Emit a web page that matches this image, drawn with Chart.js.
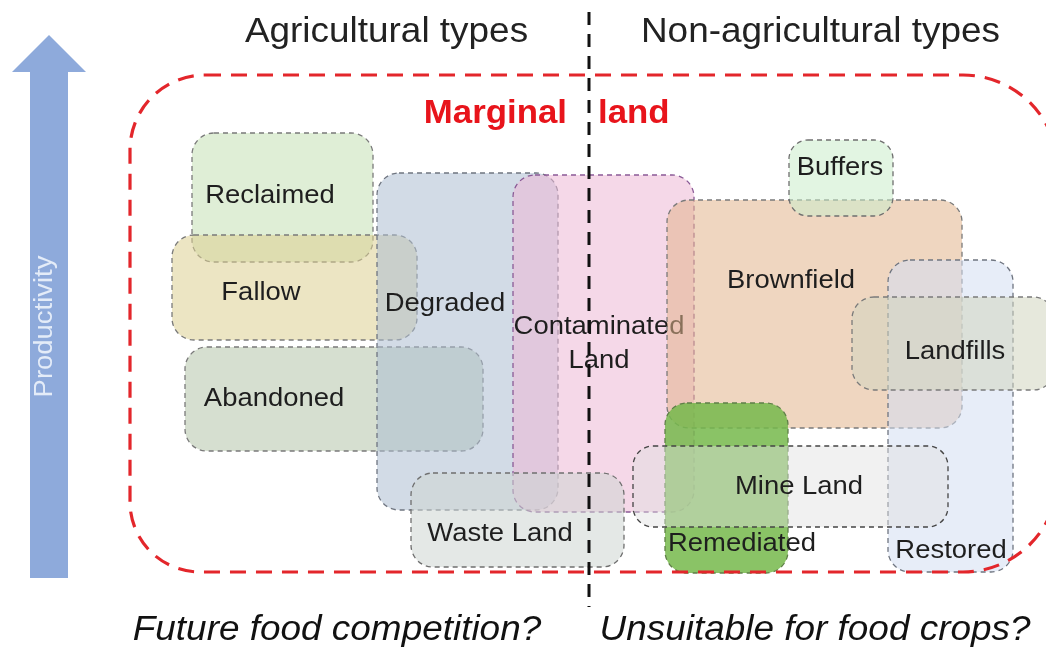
<!DOCTYPE html>
<html lang="en">
<head>
  <meta charset="UTF-8">
  <title>Marginal land types</title>
  <script src="https://cdn.jsdelivr.net/npm/chart.js"></script>
  <style>
    body { margin: 0; background: #fff; }
  </style>
</head>
<body>
  <canvas id="landChart" width="1046" height="648"></canvas>

  <script>
    // Land types: extent along the x axis and along productivity (y)
    const boxNames = ['Reclaimed', 'Fallow', 'Abandoned', 'Degraded', 'Contaminated\nLand', 'Waste Land',
      'Brownfield', 'Buffers', 'Restored', 'Landfills', 'Remediated', 'Mine Land'];
    const boxX = [[19.2, 37.3], [17.2, 41.7], [18.5, 48.3], [37.7, 55.8], [51.3, 69.4], [41.1, 62.4],
      [66.7, 96.2], [78.9, 89.3], [88.8, 101.3], [85.2, 105.5], [66.5, 78.8], [63.3, 94.8]];
    const boxY = [[38.6, 51.5], [30.8, 41.3], [19.7, 30.1], [13.8, 47.5], [13.6, 47.3], [8.1, 17.5],
      [22.0, 44.8], [43.2, 50.8], [7.6, 38.8], [25.8, 35.1], [7.5, 24.5], [12.1, 20.2]];
    const labelX = [27.0, 26.1, 27.4, 44.5, 59.9, 50.0, 79.1, 84.0, 95.1, 95.5, 74.2, 79.9];
    const labelY = [45.2, 35.5, 24.9, 34.4, 30.4, 11.4, 36.7, 48.0, 9.7, 29.6, 10.4, 16.1];

    const headings = ['Agricultural types', 'Non-agricultural types'];
    const headingX = [38.65, 82.05];
    const headingY = 60.6;
    const questions = ['Future food competition?', 'Unsuitable for food crops?'];
    const questionX = [33.7, 81.5];
    const questionY = 0.8;

    const marginX = [13.0, 105.8];
    const marginY = [7.6, 57.3];
    const dividerX = 58.9;
    const dividerY = [4.1, 63.6];
    const arrowX = 4.9;
    const arrowY = [7.0, 61.3];

    // styles
    const boxFill = ['rgba(197,224,180,0.55)', 'rgba(220,208,146,0.55)', 'rgba(180,197,170,0.55)',
      'rgba(173,190,210,0.55)', 'rgba(237,184,213,0.55)', 'rgba(206,213,210,0.55)',
      'rgba(226,180,140,0.55)', 'rgba(202,237,202,0.55)', 'rgba(211,222,242,0.55)',
      'rgba(210,213,191,0.55)', 'rgba(118,185,75,0.85)', 'rgba(225,225,225,0.45)'];
    const boxEdge = ['#7a7a7a', '#7a7a7a', '#7a7a7a', '#6f7580', '#8a5a96', '#6f6f6f',
      '#7a7a7a', '#6f6f6f', '#6f7580', '#7a7a7a', '#5f7f48', '#444444'];
    const FONT = '"Liberation Sans", Arial, sans-serif';
    const STRETCH = 1.055;

    function drawText(ctx, text, px, py, font, color, align, baseline) {
      ctx.save();
      ctx.font = font;
      ctx.fillStyle = color;
      ctx.textAlign = align || 'center';
      ctx.textBaseline = baseline || 'middle';
      ctx.translate(px, py);
      ctx.scale(STRETCH, 1);
      ctx.fillText(text, 0, 0);
      ctx.restore();
    }

    function roundBox(ctx, x, y, w, h, r) {
      ctx.beginPath();
      if (ctx.roundRect) {
        ctx.roundRect(x, y, w, h, r);
      } else {
        ctx.rect(x, y, w, h);
      }
    }

    const diagram = {
      id: 'diagram',
      beforeDraw(chart) {
        const ctx = chart.ctx;
        ctx.save();
        ctx.fillStyle = '#fff';
        ctx.fillRect(0, 0, chart.width, chart.height);
        ctx.restore();
      },
      afterDraw(chart) {
        const ctx = chart.ctx;
        const sx = chart.scales.x, sy = chart.scales.y;
        const X = v => sx.getPixelForValue(v);
        const Y = v => sy.getPixelForValue(v);

        // productivity arrow
        const ax = X(arrowX);
        const shaft = 19, head = 37, headLen = 37;
        const tip = Y(arrowY[1]), base = Y(arrowY[0]);
        ctx.save();
        ctx.fillStyle = '#8eaadb';
        ctx.beginPath();
        ctx.moveTo(ax, tip);
        ctx.lineTo(ax + head, tip + headLen);
        ctx.lineTo(ax + shaft, tip + headLen);
        ctx.lineTo(ax + shaft, base);
        ctx.lineTo(ax - shaft, base);
        ctx.lineTo(ax - shaft, tip + headLen);
        ctx.lineTo(ax - head, tip + headLen);
        ctx.closePath();
        ctx.fill();
        ctx.translate(ax - 4, (tip + base) / 2 + 20);
        ctx.rotate(-Math.PI / 2);
        ctx.scale(STRETCH, 1);
        ctx.font = '26px ' + FONT;
        ctx.fillStyle = '#e4ecf8';
        ctx.textAlign = 'center';
        ctx.textBaseline = 'middle';
        ctx.fillText('Productivity', 0, 0);
        ctx.restore();

        // land type boxes
        boxNames.forEach((name, i) => {
          const x0 = X(boxX[i][0]), x1 = X(boxX[i][1]);
          const y0 = Y(boxY[i][1]), y1 = Y(boxY[i][0]);
          const r = Math.min(22, (x1 - x0) / 4, (y1 - y0) / 4);
          ctx.save();
          roundBox(ctx, x0, y0, x1 - x0, y1 - y0, r);
          ctx.fillStyle = boxFill[i];
          ctx.fill();
          ctx.setLineDash([5, 4]);
          ctx.lineWidth = 1.3;
          ctx.strokeStyle = boxEdge[i];
          ctx.stroke();
          ctx.restore();
          const lines = name.split('\n');
          const lh = 34;
          lines.forEach((ln, k) => {
            const py = Y(labelY[i]) + (k - (lines.length - 1) / 2) * lh;
            drawText(ctx, ln, X(labelX[i]), py, '26px ' + FONT, '#1e1e1e');
          });
        });

        // marginal land boundary
        ctx.save();
        ctx.setLineDash([16, 10]);
        ctx.lineWidth = 3.2;
        ctx.strokeStyle = '#e3262b';
        roundBox(ctx, X(marginX[0]), Y(marginY[1]), X(marginX[1]) - X(marginX[0]), Y(marginY[0]) - Y(marginY[1]), [75, 95, 95, 70]);
        ctx.stroke();
        ctx.restore();

        // agricultural / non-agricultural divider
        ctx.save();
        ctx.setLineDash([13, 9]);
        ctx.lineWidth = 3;
        ctx.strokeStyle = '#111';
        ctx.beginPath();
        ctx.moveTo(X(dividerX), Y(dividerY[1]));
        ctx.lineTo(X(dividerX), Y(dividerY[0]));
        ctx.stroke();
        ctx.restore();

        drawText(ctx, 'Marginal', X(dividerX) - 22, Y(marginY[1]) + 48, 'bold 33px ' + FONT, '#e8141b', 'right', 'alphabetic');
        drawText(ctx, 'land', X(dividerX) + 9, Y(marginY[1]) + 48, 'bold 33px ' + FONT, '#e8141b', 'left', 'alphabetic');

        headings.forEach((t, i) => {
          drawText(ctx, t, X(headingX[i]), Y(headingY), '35px ' + FONT, '#222', 'center', 'alphabetic');
        });
        questions.forEach((t, i) => {
          drawText(ctx, t, X(questionX[i]), Y(questionY), 'italic 35px ' + FONT, '#111', 'center', 'alphabetic');
        });
      }
    };

    new Chart(document.getElementById('landChart').getContext('2d'), {
      type: 'scatter',
      data: {
        datasets: [{
          label: 'Land types',
          data: boxNames.map((n, i) => ({ x: labelX[i], y: labelY[i] })),
          pointRadius: 0
        }]
      },
      options: {
        responsive: false,
        animation: false,
        layout: { padding: 0 },
        plugins: { legend: { display: false }, tooltip: { enabled: false } },
        scales: {
          x: { type: 'linear', display: false, min: 0, max: 104.6 },
          y: { type: 'linear', display: false, min: 0, max: 64.8 }
        }
      },
      plugins: [diagram]
    });
  </script>
</body>
</html>
